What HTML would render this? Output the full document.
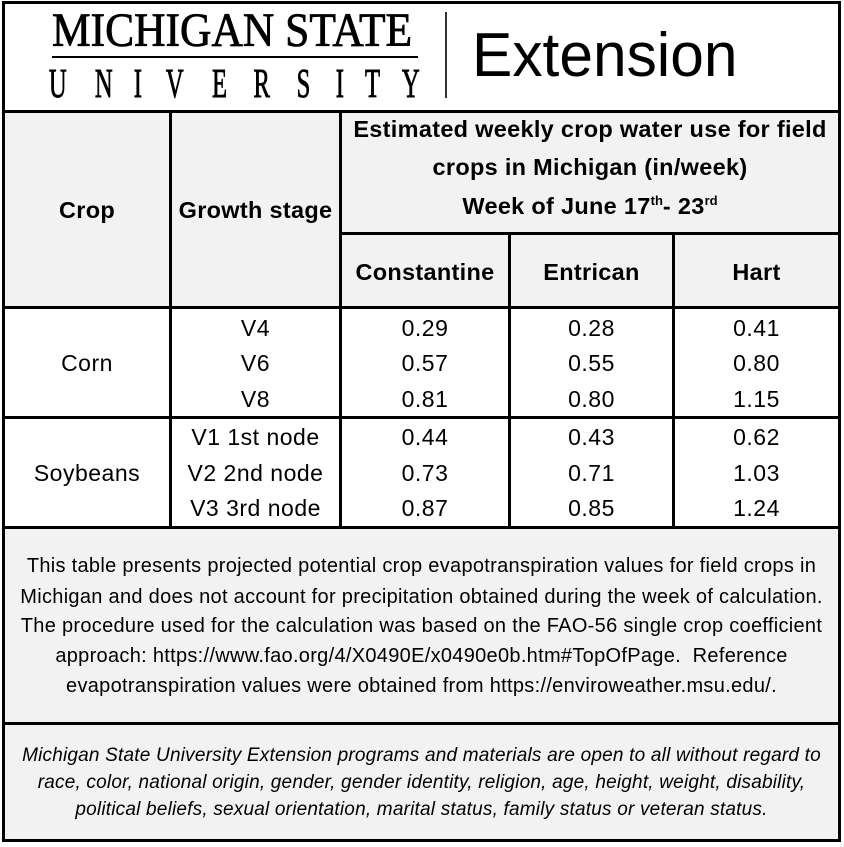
<!DOCTYPE html>
<html><head><meta charset="utf-8">
<style>
html,body{margin:0;padding:0;background:#fff;}
body{width:844px;height:847px;position:relative;overflow:hidden;font-family:"Liberation Sans",Arial,sans-serif;color:#000;}
.r{position:absolute;background:#000;}
.bg{position:absolute;background:#f2f2f2;}
.t{position:absolute;white-space:nowrap;text-align:center;height:40px;line-height:40px;}
.b{font-weight:bold;font-size:23.5px;letter-spacing:0.3px;}
.n{font-size:23px;letter-spacing:0.5px;}
.note{font-size:20px;letter-spacing:0.3px;left:5px;width:833px;}
.foot{font-size:19px;letter-spacing:0.2px;font-style:italic;left:5px;width:833px;}
.c1{left:5px;width:164px;}
.c2{left:172px;width:167px;}
.c3{left:342px;width:166px;}
.c4{left:511px;width:161px;}
.c5{left:675px;width:163px;}
.cw{left:342px;width:496px;}
sup{font-size:13px;vertical-align:0;position:relative;top:-9px;letter-spacing:0;}
.u{position:absolute;top:62.7px;width:40px;height:41px;line-height:41px;text-align:center;font-family:"Liberation Serif","Times New Roman",serif;font-size:41px;-webkit-text-stroke:0.9px #000;}
.u span{display:inline-block;transform:scaleX(0.6);}
</style></head>
<body>
<!-- backgrounds -->
<div class="bg" style="left:5px;top:113px;width:833px;height:193px;"></div>
<div class="bg" style="left:5px;top:529px;width:833px;height:310px;"></div>

<!-- logo -->
<div style="position:absolute;left:52px;top:7px;height:48px;line-height:48px;font-family:'Liberation Serif','Times New Roman',serif;font-size:48px;white-space:nowrap;transform:scaleX(0.906);transform-origin:0 0;-webkit-text-stroke:0.8px #000;">MICHIGAN STATE</div>
<div class="r" style="left:52px;top:56px;width:366px;height:2px;"></div>
<div class="u" style="left:38px;"><span>U</span></div>
<div class="u" style="left:84px;"><span>N</span></div>
<div class="u" style="left:117.5px;"><span>I</span></div>
<div class="u" style="left:155px;"><span>V</span></div>
<div class="u" style="left:200px;"><span>E</span></div>
<div class="u" style="left:242px;"><span>R</span></div>
<div class="u" style="left:283px;"><span>S</span></div>
<div class="u" style="left:319.5px;"><span>I</span></div>
<div class="u" style="left:353px;"><span>T</span></div>
<div class="u" style="left:390.5px;"><span>Y</span></div>
<div style="position:absolute;left:445px;top:12px;width:2px;height:86px;background:#333;"></div>
<div style="position:absolute;left:472px;top:24.5px;height:62px;line-height:62px;font-size:62px;white-space:nowrap;transform:scaleX(0.975);transform-origin:0 0;">Extension</div>

<!-- header text -->
<div class="t b c1" style="top:190px;">Crop</div>
<div class="t b c2" style="top:190px;">Growth stage</div>
<div class="t b cw" style="top:109px;">Estimated weekly crop water use for field</div>
<div class="t b cw" style="top:147px;">crops in Michigan (in/week)</div>
<div class="t b cw" style="top:185.5px;">Week of June 17<sup>th</sup>- 23<sup>rd</sup></div>
<div class="t b c3" style="top:251.5px;">Constantine</div>
<div class="t b c4" style="top:251.5px;">Entrican</div>
<div class="t b c5" style="top:251.5px;">Hart</div>

<!-- data rows -->
<div class="t n c1" style="top:343px;">Corn</div>
<div class="t n c1" style="top:453px;">Soybeans</div>

<div class="t n c2" style="top:307.5px;">V4</div>
<div class="t n c3" style="top:307.5px;">0.29</div>
<div class="t n c4" style="top:307.5px;">0.28</div>
<div class="t n c5" style="top:307.5px;">0.41</div>

<div class="t n c2" style="top:343px;">V6</div>
<div class="t n c3" style="top:343px;">0.57</div>
<div class="t n c4" style="top:343px;">0.55</div>
<div class="t n c5" style="top:343px;">0.80</div>

<div class="t n c2" style="top:378.5px;">V8</div>
<div class="t n c3" style="top:378.5px;">0.81</div>
<div class="t n c4" style="top:378.5px;">0.80</div>
<div class="t n c5" style="top:378.5px;">1.15</div>

<div class="t n c2" style="top:416.5px;">V1 1st node</div>
<div class="t n c3" style="top:416.5px;">0.44</div>
<div class="t n c4" style="top:416.5px;">0.43</div>
<div class="t n c5" style="top:416.5px;">0.62</div>

<div class="t n c2" style="top:453px;">V2 2nd node</div>
<div class="t n c3" style="top:453px;">0.73</div>
<div class="t n c4" style="top:453px;">0.71</div>
<div class="t n c5" style="top:453px;">1.03</div>

<div class="t n c2" style="top:488px;">V3 3rd node</div>
<div class="t n c3" style="top:488px;">0.87</div>
<div class="t n c4" style="top:488px;">0.85</div>
<div class="t n c5" style="top:488px;">1.24</div>

<!-- note -->
<div class="t note" style="top:546px;">This table presents projected potential crop evapotranspiration values for field crops in</div>
<div class="t note" style="top:576.5px;">Michigan and does not account for precipitation obtained during the week of calculation.</div>
<div class="t note" style="top:606px;">The procedure used for the calculation was based on the FAO-56 single crop coefficient</div>
<div class="t note" style="top:636px;white-space:pre;">approach: https://www.fao.org/4/X0490E/x0490e0b.htm#TopOfPage.  Reference</div>
<div class="t note" style="top:666px;">evapotranspiration values were obtained from https://enviroweather.msu.edu/.</div>

<!-- footer -->
<div class="t foot" style="top:735.5px;">Michigan State University Extension programs and materials are open to all without regard to</div>
<div class="t foot" style="top:762.5px;">race, color, national origin, gender, gender identity, religion, age, height, weight, disability,</div>
<div class="t foot" style="top:789.5px;">political beliefs, sexual orientation, marital status, family status or veteran status.</div>

<!-- lines -->
<div class="r" style="left:2px;top:1px;width:839px;height:3px;"></div>
<div class="r" style="left:2px;top:839px;width:839px;height:3px;"></div>
<div class="r" style="left:2px;top:1px;width:3px;height:841px;"></div>
<div class="r" style="left:838px;top:1px;width:3px;height:841px;"></div>
<div class="r" style="left:2px;top:110px;width:839px;height:3px;"></div>
<div class="r" style="left:2px;top:306px;width:839px;height:3px;"></div>
<div class="r" style="left:2px;top:416px;width:839px;height:3px;"></div>
<div class="r" style="left:2px;top:526px;width:839px;height:3px;"></div>
<div class="r" style="left:2px;top:722px;width:839px;height:3px;"></div>
<div class="r" style="left:339px;top:232px;width:502px;height:3px;"></div>
<div class="r" style="left:169px;top:110px;width:3px;height:419px;"></div>
<div class="r" style="left:339px;top:110px;width:3px;height:419px;"></div>
<div class="r" style="left:508px;top:232px;width:3px;height:297px;"></div>
<div class="r" style="left:672px;top:232px;width:3px;height:297px;"></div>
</body></html>
